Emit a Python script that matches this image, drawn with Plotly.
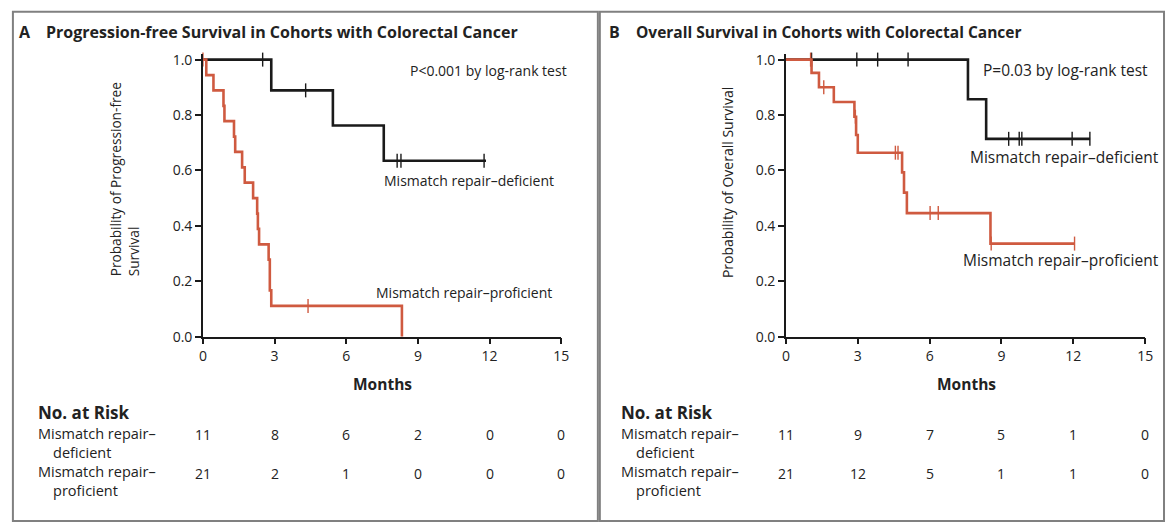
import numpy as np
import plotly.graph_objects as go

W, H = 1173, 532

# ---- Panel A: progression-free survival ----
pfs_def_times = [0, 2.86, 5.44, 7.57]
pfs_def_surv = [1.0, 0.889, 0.762, 0.635]
pfs_def_end = 11.85
pfs_def_cens = [2.5, 4.3, 8.13, 8.29, 11.77]

pfs_pro_times = [0, 0.14, 0.44, 0.86, 0.90, 1.30, 1.35, 1.64, 1.75, 2.10,
                 2.27, 2.30, 2.35, 2.75, 2.80, 2.86, 8.33]
pfs_pro_surv = [1.0, 0.944, 0.889, 0.833, 0.778, 0.722, 0.667, 0.611, 0.556,
                0.500, 0.444, 0.389, 0.333, 0.278, 0.167, 0.111, 0.0]
pfs_pro_end = 8.33
pfs_pro_cens = [0.0, 4.4]

# ---- Panel B: overall survival ----
os_def_times = [0, 7.60, 8.36]
os_def_surv = [1.0, 0.857, 0.714]
os_def_end = 12.7
os_def_cens = [1.07, 2.96, 3.83, 5.1, 9.3, 9.74, 9.85, 11.95, 12.69]

os_pro_times = [0, 1.07, 1.38, 2.0, 2.86, 2.93, 3.0, 4.85, 4.93, 5.05, 8.54]
os_pro_surv = [1.0, 0.952, 0.900, 0.847, 0.794, 0.728, 0.664, 0.593, 0.520,
               0.446, 0.336]
os_pro_end = 12.05
os_pro_cens = [1.03, 1.58, 2.9, 4.57, 4.68, 6.02, 6.36, 8.57, 12.05]

# ---- numbers at risk ----
risk_months = [0, 3, 6, 9, 12, 15]
risk_pfs_def = [11, 8, 6, 2, 0, 0]
risk_pfs_pro = [21, 2, 1, 0, 0, 0]
risk_os_def = [11, 9, 7, 5, 1, 0]
risk_os_pro = [21, 12, 5, 1, 1, 0]

x_ticks = [0, 3, 6, 9, 12, 15]
y_ticks = [0.0, 0.2, 0.4, 0.6, 0.8, 1.0]

BLACK = "#1a1a1a"
RED = "#cf5a40"
FONT = "Open Sans"
TXT = "#222222"


def px(x):
    return x / W


def py(y):
    return 1 - y / H


def step_value(times, surv, t):
    idx = np.searchsorted(np.asarray(times), t, side="right") - 1
    return np.asarray(surv)[np.clip(idx, 0, len(surv) - 1)]


def km_traces(times, surv, end, cens, color, xa, ya):
    xs = list(times) + [end]
    ys = list(surv) + [surv[-1]]
    line = go.Scatter(x=xs, y=ys, mode="lines", line=dict(color=color, width=2.6, shape="hv"),
                      xaxis=xa, yaxis=ya, cliponaxis=False, showlegend=False, hoverinfo="skip")
    cy = step_value(times, surv, np.asarray(cens))
    marks = go.Scatter(x=cens, y=cy, mode="markers",
                       marker=dict(symbol="line-ns", size=10, line=dict(color=color, width=1.4)),
                       xaxis=xa, yaxis=ya, cliponaxis=False, showlegend=False, hoverinfo="skip")
    return [line, marks]


fig = go.Figure()
for tr in km_traces(pfs_def_times, pfs_def_surv, pfs_def_end, pfs_def_cens, BLACK, "x", "y"):
    fig.add_trace(tr)
for tr in km_traces(pfs_pro_times, pfs_pro_surv, pfs_pro_end, pfs_pro_cens, RED, "x", "y"):
    fig.add_trace(tr)
for tr in km_traces(os_def_times, os_def_surv, os_def_end, os_def_cens, BLACK, "x2", "y2"):
    fig.add_trace(tr)
for tr in km_traces(os_pro_times, os_pro_surv, os_pro_end, os_pro_cens, RED, "x2", "y2"):
    fig.add_trace(tr)

axis_common = dict(showgrid=False, zeroline=False, showline=True, linecolor=BLACK, linewidth=1.6,
                   ticks="outside", ticklen=6, tickwidth=1.6, tickcolor=BLACK,
                   tickfont=dict(family=FONT, size=14, color=TXT), fixedrange=True)

# y range runs a touch past 1.0 so the top step is not clipped; domain keeps 1.0 at the same height
Y_TOP = 1.02
y_px0, y_px1 = 341, 57
y_top_px = y_px1 - (Y_TOP - 1.0) * (y_px0 - y_px1)
ydom = [py(y_px0), py(y_top_px)]
fig.update_layout(
    width=W, height=H, margin=dict(l=0, r=0, t=0, b=0),
    paper_bgcolor="white", plot_bgcolor="white",
    xaxis=dict(domain=[px(201), px(563)], range=[0, 15], tickvals=x_ticks, anchor="y", **axis_common),
    yaxis=dict(domain=ydom, range=[0, Y_TOP], tickvals=y_ticks, tickformat=".1f", anchor="x", **axis_common),
    xaxis2=dict(domain=[px(790), px(1153)], range=[0, 15], tickvals=x_ticks, anchor="y2", **axis_common),
    yaxis2=dict(domain=ydom, range=[0, Y_TOP], tickvals=y_ticks, tickformat=".1f", anchor="x2", **axis_common),
)

# panel frames
fig.add_shape(type="rect", xref="paper", yref="paper", x0=px(9), x1=px(600), y0=py(530), y1=py(8),
              line=dict(color="#808080", width=2))
fig.add_shape(type="rect", xref="paper", yref="paper", x0=px(602), x1=px(1172), y0=py(530), y1=py(8),
              line=dict(color="#808080", width=2))

ann = []


def text(x, y, s, size=14, bold=False, xanchor="left", xref="paper", angle=0):
    ann.append(dict(x=x, y=y, xref=xref, yref="paper", text=f"<b>{s}</b>" if bold else s,
                    showarrow=False, xanchor=xanchor, yanchor="middle", textangle=angle,
                    align="left", borderpad=0,
                    font=dict(family=FONT, size=size, color=TXT)))


# titles
text(px(14), py(29), "A", size=16, bold=True)
text(px(41), py(29), "Progression-free Survival in Cohorts with Colorectal Cancer", size=16, bold=True)
text(px(610), py(29), "B", size=16, bold=True)
text(px(638), py(29), "Overall Survival in Cohorts with Colorectal Cancer", size=15.5, bold=True)

# axis titles
text(px(122), py(180), "Probability of Progression-free<br>Survival", size=13.7, xanchor="center", angle=-90)
text(px(731), py(183), "Probability of Overall Survival", size=14, xanchor="center", angle=-90)
text(px(382), py(390), "Months", size=15.5, bold=True, xanchor="center")
text(px(972), py(390), "Months", size=15.5, bold=True, xanchor="center")

# in-plot labels
text(px(570), py(68), "P<0.001 by log-rank test", size=14, xanchor="right")
text(px(383), py(181), "Mismatch repair–deficient", size=14)
text(px(375), py(296), "Mismatch repair–proficient", size=14)
text(px(1157), py(68), "P=0.03 by log-rank test", size=15.5, xanchor="right")
text(px(975), py(157), "Mismatch repair–deficient", size=15.5)
text(px(968), py(262), "Mismatch repair–proficient", size=15.5)

# numbers at risk tables
IND = "&nbsp;" * 4
for x0, xref, rd, rp in [(33, "x", risk_pfs_def, risk_pfs_pro), (622, "x2", risk_os_def, risk_os_pro)]:
    text(px(x0), py(419), "No. at Risk", size=17, bold=True)
    text(px(x0), py(450), "Mismatch repair–<br>" + IND + "deficient", size=14.5)
    text(px(x0), py(489), "Mismatch repair–<br>" + IND + "proficient", size=14.5)
    for m, a, b in zip(risk_months, rd, rp):
        text(m, py(441), str(a), size=14, xanchor="center", xref=xref)
        text(m, py(481), str(b), size=14, xanchor="center", xref=xref)

fig.update_layout(annotations=ann)
fig.write_html("out.html")
